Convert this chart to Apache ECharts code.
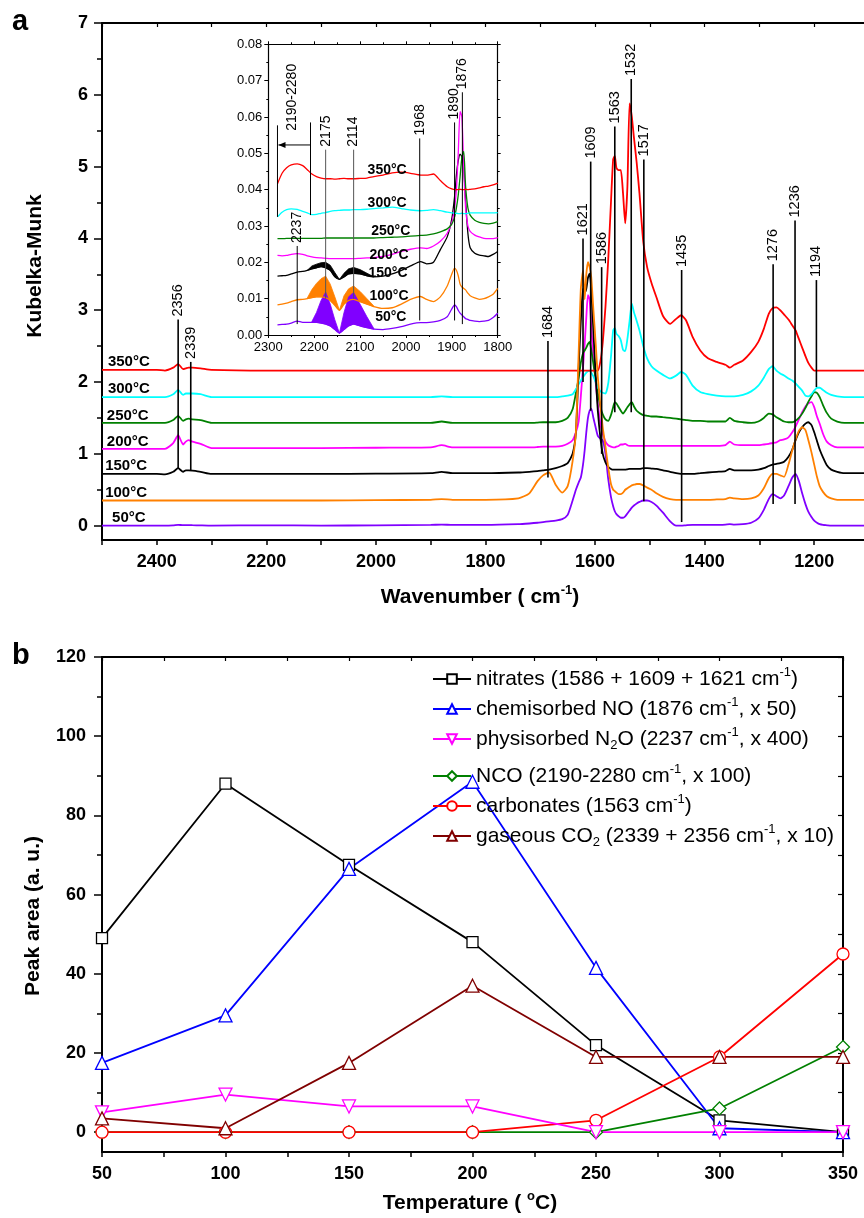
<!DOCTYPE html>
<html><head><meta charset="utf-8">
<script src="https://cdn.jsdelivr.net/npm/echarts@6/dist/echarts.min.js"></script>
<style>html,body{margin:0;padding:0;background:#fff}#c{width:864px;height:1218px}</style>
</head><body><div id="c"></div>
<script>
const FONT = '"Liberation Sans", Arial, Helvetica, sans-serif';

// ===== Panel a: DRIFT spectra (Kubelka-Munk vs wavenumber) =====
const wn = [2500,2400,2385,2370,2361,2352,2347,2342,2335,2320,
  2300,2200,2100,2000,1900,1880,1860,1800,1740,1720,
  1705,1695,1684,1672,1660,1650,1641,1635,1630,1626,
  1622,1619,1616,1613,1610,1607,1603,1599,1595,1590,
  1586,1581,1576,1571,1567,1564,1561,1557,1553,1549,
  1545,1541,1537,1533,1529,1524,1519,1512,1505,1497,
  1488,1476,1463,1452,1443,1434,1422,1408,1394,1378,
  1362,1354,1346,1330,1315,1302,1292,1283,1276,1269,
  1262,1255,1247,1240,1234,1228,1222,1216,1211,1205,
  1200,1195,1190,1184,1177,1169,1158,1145,1130,1100];
const km50 = [0,0,0,0.005,0.012,0.006,0.008,0.008,0.006,0.003,
  0,0.005,0,0.005,0.01,0.015,0.01,0.01,0.02,0.03,
  0.04,0.05,0.06,0.07,0.09,0.15,0.35,0.5,0.6,0.67,
  0.85,1.05,1.3,1.5,1.6,1.63,1.5,1.37,1.25,1.21,
  1.19,1.0,0.65,0.4,0.27,0.2,0.16,0.13,0.11,0.11,
  0.13,0.17,0.21,0.25,0.28,0.31,0.33,0.35,0.35,0.33,
  0.28,0.18,0.06,0,0,0.005,0.01,0.01,0.01,0.01,
  0.015,0.02,0.015,0.02,0.04,0.1,0.22,0.37,0.44,0.41,
  0.38,0.42,0.55,0.67,0.72,0.62,0.45,0.3,0.2,0.12,
  0.07,0.04,0.02,0.01,0.005,0,0,0,0,0];
const km100 = [0.35,0.35,0.35,0.35,0.35,0.35,0.35,0.35,0.35,0.35,
  0.35,0.35,0.35,0.355,0.36,0.37,0.36,0.36,0.38,0.45,
  0.62,0.70,0.74,0.57,0.46,0.55,0.9,1.3,2.4,3.3,
  3.55,3.15,3.5,3.67,3.6,3.46,3.0,2.55,2.07,1.65,
  1.37,1.1,0.81,0.58,0.5,0.48,0.46,0.44,0.44,0.46,
  0.5,0.52,0.54,0.56,0.57,0.58,0.58,0.56,0.53,0.5,
  0.45,0.40,0.37,0.36,0.36,0.36,0.36,0.36,0.36,0.365,
  0.37,0.39,0.38,0.37,0.38,0.42,0.52,0.66,0.72,0.72,
  0.70,0.68,0.85,1.05,1.2,1.32,1.37,1.33,1.2,1.02,
  0.85,0.68,0.55,0.47,0.41,0.38,0.36,0.36,0.36,0.36];
const km150 = [0.72,0.72,0.715,0.75,0.80,0.75,0.77,0.77,0.765,0.75,
  0.72,0.72,0.72,0.725,0.73,0.75,0.73,0.73,0.74,0.75,
  0.76,0.77,0.78,0.80,0.83,0.87,1.0,1.3,2.2,2.85,
  3.3,3.25,3.3,3.45,3.51,3.3,2.7,2.1,1.6,1.2,
  1.0,0.88,0.82,0.79,0.78,0.78,0.78,0.78,0.78,0.78,
  0.78,0.785,0.79,0.79,0.79,0.79,0.79,0.80,0.80,0.795,
  0.79,0.77,0.75,0.73,0.72,0.72,0.72,0.73,0.74,0.75,
  0.76,0.79,0.77,0.77,0.77,0.78,0.8,0.83,0.85,0.86,
  0.87,0.89,0.96,1.06,1.19,1.3,1.37,1.42,1.44,1.40,
  1.3,1.18,1.06,0.95,0.84,0.78,0.75,0.73,0.73,0.73];
const km200 = [1.07,1.07,1.07,1.15,1.26,1.13,1.17,1.19,1.17,1.14,
  1.08,1.08,1.08,1.085,1.09,1.12,1.09,1.09,1.09,1.09,
  1.095,1.10,1.10,1.10,1.11,1.14,1.19,1.3,1.45,1.8,
  2.2,2.53,2.9,3.21,3.15,2.77,2.35,2.0,1.7,1.4,
  1.28,1.17,1.12,1.10,1.09,1.09,1.10,1.11,1.13,1.13,
  1.14,1.12,1.11,1.11,1.11,1.11,1.11,1.11,1.11,1.11,
  1.11,1.11,1.11,1.11,1.11,1.11,1.11,1.11,1.11,1.11,
  1.12,1.17,1.13,1.12,1.12,1.12,1.13,1.14,1.15,1.16,
  1.19,1.2,1.23,1.3,1.38,1.48,1.58,1.66,1.70,1.72,
  1.65,1.52,1.42,1.28,1.17,1.12,1.09,1.09,1.09,1.09];
const km250 = [1.43,1.43,1.43,1.47,1.53,1.46,1.48,1.49,1.48,1.47,
  1.43,1.43,1.43,1.43,1.43,1.45,1.43,1.43,1.43,1.43,
  1.435,1.44,1.44,1.44,1.46,1.5,1.62,1.85,2.05,2.27,
  2.4,2.44,2.48,2.53,2.56,2.45,2.25,2.05,1.85,1.65,
  1.55,1.48,1.46,1.54,1.65,1.72,1.70,1.65,1.6,1.56,
  1.6,1.65,1.69,1.72,1.66,1.6,1.57,1.54,1.53,1.52,
  1.52,1.51,1.50,1.49,1.48,1.47,1.46,1.46,1.45,1.45,
  1.45,1.5,1.46,1.44,1.43,1.45,1.5,1.56,1.55,1.51,
  1.48,1.45,1.44,1.44,1.46,1.5,1.56,1.64,1.72,1.8,
  1.86,1.85,1.79,1.68,1.57,1.49,1.45,1.43,1.43,1.43];
const km300 = [1.79,1.79,1.79,1.83,1.89,1.82,1.84,1.84,1.84,1.83,
  1.79,1.79,1.79,1.79,1.79,1.80,1.79,1.79,1.79,1.79,
  1.79,1.79,1.79,1.79,1.8,1.81,1.83,1.9,1.97,2.02,
  2.07,2.1,2.13,2.15,2.16,2.13,2.08,2.0,1.92,1.87,
  1.85,1.84,1.98,2.35,2.72,2.75,2.67,2.64,2.58,2.45,
  2.43,2.6,2.85,3.09,2.97,2.85,2.72,2.5,2.33,2.22,
  2.16,2.1,2.05,2.09,2.14,2.1,1.95,1.86,1.83,1.81,
  1.8,1.8,1.8,1.82,1.87,1.95,2.06,2.18,2.22,2.16,
  2.12,2.09,2.05,2.02,1.98,1.93,1.88,1.81,1.8,1.83,
  1.88,1.92,1.92,1.89,1.85,1.82,1.8,1.79,1.79,1.79];
const km350 = [2.17,2.17,2.16,2.20,2.25,2.18,2.19,2.20,2.20,2.19,
  2.17,2.16,2.16,2.16,2.16,2.16,2.16,2.16,2.16,2.16,
  2.16,2.16,2.16,2.16,2.16,2.16,2.16,2.16,2.16,2.16,
  2.16,2.16,2.16,2.16,2.16,2.16,2.16,2.16,2.16,2.3,
  2.55,3.05,3.7,4.5,5.1,5.15,4.98,4.95,4.95,4.63,
  4.21,4.72,5.88,5.7,5.4,5.05,4.63,3.95,3.6,3.38,
  3.18,2.92,2.81,2.88,2.93,2.86,2.63,2.44,2.33,2.28,
  2.24,2.2,2.24,2.3,2.42,2.56,2.74,2.95,3.03,3.04,
  3.0,2.94,2.87,2.79,2.72,2.6,2.48,2.36,2.27,2.2,
  2.16,2.16,2.16,2.16,2.16,2.16,2.16,2.16,2.16,2.16];

const tempNames = ['50°C','100°C','150°C','200°C','250°C','300°C','350°C'];
const tempColors = ['#8000ff','#ff8000','#000000','#ff00ff','#008000','#00ffff','#ff0000'];
const tempLabelW = [2451,2456,2456,2453,2453,2451,2451];
const tempLabelY = [0.11,0.45,0.83,1.16,1.53,1.91,2.28];

// peak assignment lines (main)
const annLabel = ['2356','2339','1684','1621','1609','1586','1563','1532','1517','1435','1276','1236','1194'];
const annW  = [2361,2338,1686,1622,1608,1588,1564,1534,1511,1442,1275,1235,1196];
const annLo = [0.79,0.77,0.67,2.0,1.6,1.0,1.58,1.58,0.34,0.05,0.3,0.3,1.93];
const annHi = [2.87,2.28,2.57,4.0,5.07,3.6,5.56,6.22,5.1,3.56,3.64,4.25,3.42];

// ===== Inset (zoom 2300-1800 cm-1) =====
const iwn = [2280,2270,2260,2250,2237,2225,2215,2205,2195,2185,
  2175,2165,2155,2145,2135,2125,2114,2100,2085,2070,
  2050,2030,2010,1990,1968,1955,1940,1925,1910,1900,
  1894,1890,1886,1882,1878,1874,1870,1865,1860,1850,
  1840,1830,1820,1810,1800];
const ik350 = [0.0416,0.0445,0.0460,0.0468,0.0471,0.0466,0.0455,0.0443,0.0436,0.0432,
  0.0430,0.0430,0.0429,0.0430,0.0431,0.0430,0.0430,0.0431,0.0432,0.0436,
  0.0440,0.0446,0.0448,0.0445,0.0440,0.0440,0.0443,0.0425,0.0408,0.0402,
  0.0400,0.0400,0.0400,0.0401,0.0400,0.0400,0.0401,0.0400,0.0401,0.0402,
  0.0405,0.0408,0.0410,0.0413,0.0418];
const ik300 = [0.0325,0.0338,0.0345,0.0347,0.0346,0.0340,0.0336,0.0331,0.0332,0.0335,
  0.0337,0.0340,0.0342,0.0343,0.0344,0.0344,0.0345,0.0345,0.0346,0.0348,
  0.0350,0.0352,0.0348,0.0344,0.0342,0.0343,0.0345,0.0342,0.0338,0.0336,
  0.0335,0.0335,0.0334,0.0334,0.0335,0.0334,0.0334,0.0335,0.0336,0.0336,
  0.0336,0.0336,0.0336,0.0336,0.0337];
const ik250 = [0.0265,0.0265,0.0266,0.0266,0.0266,0.0266,0.0266,0.0266,0.0266,0.0266,
  0.0267,0.0267,0.0267,0.0267,0.0267,0.0267,0.0267,0.0267,0.0267,0.0267,
  0.0268,0.0269,0.0270,0.0272,0.0274,0.0275,0.0278,0.0284,0.0292,0.0305,
  0.0325,0.0350,0.0385,0.0435,0.0490,0.0505,0.0410,0.0350,0.0330,0.0316,
  0.0310,0.0307,0.0306,0.0308,0.0312];
const ik200 = [0.0219,0.0218,0.0219,0.0222,0.0224,0.0222,0.0218,0.0215,0.0213,0.0212,
  0.0211,0.0210,0.0210,0.0210,0.0210,0.0210,0.0210,0.0211,0.0212,0.0213,
  0.0216,0.0222,0.0230,0.0236,0.0240,0.0238,0.0245,0.0258,0.0280,0.0310,
  0.0350,0.0400,0.0500,0.0615,0.0600,0.0460,0.0350,0.0300,0.0285,0.0275,
  0.0270,0.0266,0.0265,0.0265,0.0268];
const ik150 = [0.0162,0.0163,0.0164,0.0168,0.0173,0.0175,0.0178,0.0182,0.0185,0.0188,
  0.0185,0.0178,0.0160,0.0153,0.0160,0.0168,0.0170,0.0168,0.0163,0.0160,
  0.0162,0.0168,0.0178,0.0190,0.0202,0.0196,0.0200,0.0235,0.0270,0.0320,
  0.0380,0.0440,0.0480,0.0498,0.0490,0.0460,0.0370,0.0280,0.0240,0.0225,
  0.0220,0.0218,0.0216,0.0222,0.0230];
const ik100 = [0.0083,0.0085,0.0088,0.0092,0.0097,0.0098,0.0100,0.0103,0.0105,0.0105,
  0.0103,0.0095,0.0082,0.0068,0.0085,0.0095,0.0098,0.0092,0.0085,0.0078,
  0.0073,0.0075,0.0085,0.0098,0.0106,0.0098,0.0092,0.0105,0.0135,0.0168,
  0.0184,0.0178,0.0163,0.0140,0.0132,0.0128,0.0124,0.0115,0.0108,0.0102,
  0.0098,0.0100,0.0105,0.0112,0.0128];
const ik50 = [0.0028,0.0029,0.0030,0.0033,0.0038,0.0035,0.0035,0.0035,0.0035,0.0033,
  0.0030,0.0025,0.0015,0.0005,0.0015,0.0025,0.0030,0.0025,0.0020,0.0016,
  0.0015,0.0018,0.0023,0.0030,0.0034,0.0034,0.0036,0.0040,0.0050,0.0072,
  0.0083,0.0078,0.0068,0.0060,0.0055,0.0050,0.0045,0.0043,0.0040,0.0038,
  0.0037,0.0038,0.0040,0.0048,0.0060];
// noise envelopes (shaded) in the inset
const bandKW  = [2215,2205,2195,2185,2175,2165,2155,2145,2135,2125,2114,2100,2085,2070];
const bandKLo = [0.0178,0.0182,0.0185,0.0188,0.0185,0.0178,0.0160,0.0153,0.0160,0.0168,0.0170,0.0168,0.0163,0.0160];
const bandKHi = [0.0178,0.0190,0.0195,0.0199,0.0200,0.0192,0.0172,0.0153,0.0170,0.0182,0.0186,0.0180,0.0170,0.0160];
const bandOW  = [2215,2205,2195,2185,2175,2165,2155,2145,2135,2125,2114,2100,2085,2070];
const bandOLo = [0.0100,0.0103,0.0105,0.0105,0.0103,0.0095,0.0082,0.0068,0.0085,0.0095,0.0098,0.0092,0.0085,0.0078];
const bandOHi = [0.0102,0.0125,0.0142,0.0155,0.0162,0.0140,0.0105,0.0068,0.0108,0.0127,0.0135,0.0120,0.0100,0.0080];
const bandPW  = [2205,2195,2185,2175,2165,2155,2145,2135,2125,2114,2100,2085,2070];
const bandPLo = [0.0035,0.0035,0.0033,0.0030,0.0025,0.0015,0.0005,0.0015,0.0025,0.0030,0.0025,0.0020,0.0016];
const bandPHi = [0.0037,0.0062,0.0095,0.0118,0.0085,0.0042,0.0005,0.0062,0.0105,0.0117,0.0085,0.0050,0.0018];

const itempLabelW = [2033,2037,2039,2037,2033,2041,2041];
const itempLabelY = [0.0050,0.0107,0.0170,0.0220,0.0287,0.0363,0.0455];

const iannLabel = ['2237','2175','2114','1968','1890','1876'];
const iannW  = [2237,2175,2114,1970,1894,1877];
const iannLo = [0.003,0.010,0.010,0.004,0.004,0.003];
const iannHi = [0.0245,0.051,0.051,0.0541,0.0585,0.0668];
const iannColor = ['#000','#555','#555','#000','#000','#000'];
const ncoW = [2280,2208];
const ncoLo = [0.0325,0.033];
const ncoHi = [0.0577,0.0585];
const ncoArrowY = 0.0523;
const ncoLabel = '2190-2280';
const ncoLabelW = 2249, ncoLabelY = 0.0562;

// ===== Panel b: peak areas vs temperature =====
const temps = [50,100,150,200,250,300,350];
const nitrates   = [49,88,67.5,48,22,3,0];
const chemNO     = [17.5,29.5,66.5,88.5,41.5,1,0];
const physN2O    = [5,9.5,6.5,6.5,0,0,0];
const nco        = [0,0,0,0,0,6,21.5];
const carbonates = [0,0,0,0,3,19,45];
const gasCO2     = [3.5,1,17.5,37,19,19,19];

const bNames = ['nitrates','chemNO','physN2O','NCO','carbonates','gasCO2'];
const bLegendText = [
  'nitrates (1586 + 1609 + 1621 cm{sup|-1})',
  'chemisorbed NO (1876 cm{sup|-1}, x 50)',
  'physisorbed N{sub|2}O (2237 cm{sup|-1}, x 400)',
  'NCO (2190-2280 cm{sup|-1}, x 100)',
  'carbonates (1563 cm{sup|-1})',
  'gaseous CO{sub|2} (2339 + 2356 cm{sup|-1}, x 10)'
];
const bLegendTop = [661, 691, 721, 758, 788, 818];

// ===== build chart =====
const chart = echarts.init(document.getElementById('c'), null, {renderer: 'canvas'});
const pair = (xs, ys) => xs.map((x, i) => [x, ys[i]]);

function annRender(ws, lo, hi, labels, colors, fontPx, lw) {
  return function (params, api) {
    const i = params.dataIndex;
    const a = api.coord([ws[i], lo[i]]), b = api.coord([ws[i], hi[i]]);
    return {type: 'group', children: [
      {type: 'line', shape: {x1: a[0], y1: a[1], x2: b[0], y2: b[1]}, style: {stroke: colors ? colors[i] : '#000', lineWidth: lw}},
      {type: 'text', x: b[0], y: b[1] - 3, rotation: Math.PI / 2,
        style: {text: labels[i], font: fontPx + 'px ' + FONT, fill: '#000', align: 'left', verticalAlign: 'middle'}}
    ]};
  };
}
function textRender(ws, ys, labels, font) {
  return function (params, api) {
    const i = params.dataIndex;
    const p = api.coord([ws[i], ys[i]]);
    return {type: 'text', x: p[0], y: p[1], style: {text: labels[i], font: font, fill: '#000', align: 'center', verticalAlign: 'middle'}};
  };
}
function bandRender(ws, lo, hi, color) {
  return function (params, api) {
    const pts = [];
    for (let i = 0; i < ws.length; i++) pts.push(api.coord([ws[i], hi[i]]));
    for (let i = ws.length - 1; i >= 0; i--) pts.push(api.coord([ws[i], lo[i]]));
    return {type: 'polygon', shape: {points: pts}, style: {fill: color, stroke: color, lineWidth: 0.8}};
  };
}
function ncoRender(params, api) {
  const ch = [];
  for (let i = 0; i < ncoW.length; i++) {
    const a = api.coord([ncoW[i], ncoLo[i]]), b = api.coord([ncoW[i], ncoHi[i]]);
    ch.push({type: 'line', shape: {x1: a[0], y1: a[1], x2: b[0], y2: b[1]}, style: {stroke: '#000', lineWidth: 1}});
  }
  const l = api.coord([ncoW[0], ncoArrowY]), r = api.coord([ncoW[1], ncoArrowY]);
  ch.push({type: 'line', shape: {x1: l[0] + 1, y1: l[1], x2: r[0], y2: r[1]}, style: {stroke: '#000', lineWidth: 1}});
  ch.push({type: 'polygon', shape: {points: [[l[0] + 1, l[1]], [l[0] + 8, l[1] - 3], [l[0] + 8, l[1] + 3]]}, style: {fill: '#000'}});
  const t = api.coord([ncoLabelW, ncoLabelY]);
  ch.push({type: 'text', x: t[0], y: t[1], rotation: Math.PI / 2,
    style: {text: ncoLabel, font: '14px ' + FONT, fill: '#000', align: 'left', verticalAlign: 'middle'}});
  return {type: 'group', children: ch};
}

const axisLineBlack = (w) => ({show: true, onZero: false, lineStyle: {color: '#000', width: w}});
const tickStyle = (w) => ({color: '#000', width: w});
const boldLabel = {color: '#000', fontWeight: 'bold', fontSize: 18, fontFamily: FONT};

const spectra = [km50, km100, km150, km200, km250, km300, km350];
const drawOrder = [0, 3, 4, 5, 6, 2, 1];
const series = [];
drawOrder.forEach(k => series.push({
  type: 'line', name: 'a' + tempNames[k], xAxisIndex: 0, yAxisIndex: 0,
  data: pair(wn, spectra[k]), showSymbol: false, symbol: 'none', smooth: 0.2,
  lineStyle: {color: tempColors[k], width: 1.8}, z: 3, silent: true
}));
series.push({type: 'custom', xAxisIndex: 0, yAxisIndex: 0, z: 6, silent: true,
  renderItem: annRender(annW, annLo, annHi, annLabel, null, 14.5, 1.6),
  data: annW.map((w, i) => [w, annLo[i], annHi[i]])});
series.push({type: 'custom', xAxisIndex: 0, yAxisIndex: 0, z: 6, silent: true,
  renderItem: textRender(tempLabelW, tempLabelY, tempNames, 'bold 15px ' + FONT),
  data: tempLabelW.map((w, i) => [w, tempLabelY[i]])});

// inset
const ispec = [ik50, ik100, ik150, ik200, ik250, ik300, ik350];
[['#ff8000', bandOW, bandOLo, bandOHi], ['#8000ff', bandPW, bandPLo, bandPHi], ['#000000', bandKW, bandKLo, bandKHi]].forEach(b => {
  series.push({type: 'custom', xAxisIndex: 2, yAxisIndex: 2, z: 7, silent: true,
    renderItem: bandRender(b[1], b[2], b[3], b[0]), data: [[b[1][0], b[2][0]]]});
});
[0, 1, 2, 3, 4, 5, 6].forEach(k => series.push({
  type: 'line', xAxisIndex: 2, yAxisIndex: 2, data: pair(iwn, ispec[k]), showSymbol: false, symbol: 'none',
  smooth: 0.2, lineStyle: {color: tempColors[k], width: 1.3}, z: 8, silent: true
}));
series.push({type: 'custom', xAxisIndex: 2, yAxisIndex: 2, z: 9, silent: true,
  renderItem: annRender(iannW, iannLo, iannHi, iannLabel, iannColor, 14, 1),
  data: iannW.map((w, i) => [w, iannLo[i], iannHi[i]])});
series.push({type: 'custom', xAxisIndex: 2, yAxisIndex: 2, z: 9, silent: true,
  renderItem: ncoRender, data: [[ncoW[0], ncoLo[0]]]});
series.push({type: 'custom', xAxisIndex: 2, yAxisIndex: 2, z: 9, silent: true,
  renderItem: textRender(itempLabelW, itempLabelY, tempNames, 'bold 14px ' + FONT),
  data: itempLabelW.map((w, i) => [w, itempLabelY[i]])});

// panel b
const bData = {nitrates, chemNO, physN2O, NCO: nco, carbonates, gasCO2};
const bStyle = {
  nitrates:   {c: '#000000', s: 'rect', size: 11, rot: 0},
  chemNO:     {c: '#0000ff', s: 'triangle', size: 13, rot: 0},
  physN2O:    {c: '#ff00ff', s: 'triangle', size: 13, rot: 180},
  NCO:        {c: '#008000', s: 'diamond', size: 13, rot: 0},
  carbonates: {c: '#ff0000', s: 'circle', size: 12, rot: 0},
  gasCO2:     {c: '#800000', s: 'triangle', size: 13, rot: 0}
};
['nitrates', 'chemNO', 'NCO', 'carbonates', 'physN2O', 'gasCO2'].forEach(n => {
  const st = bStyle[n];
  series.push({type: 'line', name: n, xAxisIndex: 4, yAxisIndex: 4, data: pair(temps, bData[n]),
    symbol: st.s, symbolSize: st.size, symbolRotate: st.rot, showSymbol: true,
    lineStyle: {color: st.c, width: 1.8}, itemStyle: {color: '#fff', borderColor: st.c, borderWidth: 1.3},
    z: 3, silent: true, clip: false});
});

const richSup = {
  sup: {fontSize: 13, lineHeight: 12, verticalAlign: 'top', fontFamily: FONT, color: '#000'},
  sub: {fontSize: 13, lineHeight: 12, verticalAlign: 'bottom', fontFamily: FONT, color: '#000'}
};
const legends = bNames.map((n, i) => ({
  data: [n], left: 427, top: bLegendTop[i], itemWidth: 38, itemHeight: 12, selectedMode: false,
  formatter: () => bLegendText[i],
  textStyle: {fontSize: 21, fontFamily: FONT, color: '#000', lineHeight: 26, rich: richSup}
}));

const range = (a, b, s) => { const r = []; for (let v = a; v <= b + 1e-9; v += s) r.push(Math.round(v * 1000) / 1000); return r; };

const option = {
  animation: false,
  backgroundColor: '#fff',
  grid: [
    {left: 102, top: 23, width: 767, height: 517, containLabel: false, outerBoundsMode: 'none'},
    {left: 268.3, top: 44.3, width: 229.4, height: 290.7, show: true, backgroundColor: '#fff', borderWidth: 0, containLabel: false, outerBoundsMode: 'none'},
    {left: 102, top: 657, width: 741, height: 495, containLabel: false, outerBoundsMode: 'none'}
  ],
  xAxis: [
    {gridIndex: 0, type: 'value', position: 'bottom', min: 1100, max: 2500, inverse: true, interval: 100,
      axisLine: axisLineBlack(2), axisTick: {show: true, length: 5, lineStyle: tickStyle(1.5)},
      axisLabel: Object.assign({margin: 13, formatter: v => (v % 200 === 0 ? String(v) : '')}, boldLabel),
      splitLine: {show: false}},
    {gridIndex: 0, type: 'value', position: 'top', min: 1100, max: 2500, inverse: true, interval: 100,
      axisLine: axisLineBlack(2), axisTick: {show: true, inside: true, length: 4, lineStyle: tickStyle(1.2)},
      axisLabel: {show: false}, splitLine: {show: false}},
    {gridIndex: 1, type: 'value', position: 'bottom', min: 1800, max: 2300, inverse: true, interval: 100,
      axisLine: axisLineBlack(1.2), axisTick: {show: true, length: 3, lineStyle: tickStyle(1)},
      minorTick: {show: true, splitNumber: 2, length: 2, lineStyle: tickStyle(1)},
      axisLabel: {margin: 6, color: '#000', fontSize: 13, fontFamily: FONT, formatter: v => String(v)},
      splitLine: {show: false}},
    {gridIndex: 1, type: 'value', position: 'top', min: 1800, max: 2300, inverse: true, interval: 100,
      axisLine: axisLineBlack(1.2), axisTick: {show: true, length: 3, lineStyle: tickStyle(1)},
      minorTick: {show: true, splitNumber: 2, length: 2, lineStyle: tickStyle(1)},
      axisLabel: {show: false}, splitLine: {show: false}},
    {gridIndex: 2, type: 'value', position: 'bottom', min: 50, max: 350, interval: 50,
      axisLine: axisLineBlack(2), axisTick: {show: true, length: 5, lineStyle: tickStyle(1.5)},
      minorTick: {show: true, splitNumber: 2, length: 5, lineStyle: tickStyle(1.5)},
      axisLabel: Object.assign({margin: 13, formatter: v => String(v)}, boldLabel),
      splitLine: {show: false}, minorSplitLine: {show: false}},
    {gridIndex: 2, type: 'value', position: 'top', min: 50, max: 350, interval: 25,
      axisLine: axisLineBlack(2), axisTick: {show: true, inside: true, length: 4, lineStyle: tickStyle(1.2)},
      axisLabel: {show: false}, splitLine: {show: false}}
  ],
  yAxis: [
    {gridIndex: 0, type: 'value', position: 'left', min: -0.2, max: 7,
      axisLine: axisLineBlack(2),
      axisTick: {show: true, length: 8, customValues: range(0, 7, 1), lineStyle: tickStyle(1.5)},
      axisLabel: Object.assign({margin: 14, customValues: range(0, 7, 1), formatter: v => String(v)}, boldLabel),
      splitLine: {show: false}},
    {gridIndex: 0, type: 'value', position: 'left', min: -0.2, max: 7,
      axisLine: {show: false, onZero: false},
      axisTick: {show: true, length: 5, customValues: range(0.5, 6.5, 1), lineStyle: tickStyle(1.5)},
      axisLabel: {show: false}, splitLine: {show: false}},
    {gridIndex: 1, type: 'value', position: 'left', min: 0, max: 0.08, interval: 0.01,
      axisLine: axisLineBlack(1.2), axisTick: {show: true, length: 4, lineStyle: tickStyle(1)},
      minorTick: {show: true, splitNumber: 2, length: 2, lineStyle: tickStyle(1)},
      axisLabel: {margin: 6, color: '#000', fontSize: 13, fontFamily: FONT, formatter: v => v.toFixed(2)},
      splitLine: {show: false}},
    {gridIndex: 1, type: 'value', position: 'right', min: 0, max: 0.08, interval: 0.01,
      axisLine: axisLineBlack(1.2), axisTick: {show: true, length: 3, lineStyle: tickStyle(1)},
      minorTick: {show: true, splitNumber: 2, length: 2, lineStyle: tickStyle(1)},
      axisLabel: {show: false}, splitLine: {show: false}},
    {gridIndex: 2, type: 'value', position: 'left', min: -5, max: 120,
      axisLine: axisLineBlack(2),
      axisTick: {show: true, length: 8, customValues: range(0, 120, 20), lineStyle: tickStyle(1.5)},
      axisLabel: Object.assign({margin: 16, customValues: range(0, 120, 20), formatter: v => String(v)}, boldLabel),
      splitLine: {show: false}},
    {gridIndex: 2, type: 'value', position: 'left', min: -5, max: 120,
      axisLine: {show: false, onZero: false},
      axisTick: {show: true, length: 5, customValues: range(10, 110, 20), lineStyle: tickStyle(1.5)},
      axisLabel: {show: false}, splitLine: {show: false}},
    {gridIndex: 2, type: 'value', position: 'right', min: -5, max: 120,
      axisLine: axisLineBlack(2),
      axisTick: {show: true, inside: true, length: 5, customValues: range(0, 120, 10), lineStyle: tickStyle(1.2)},
      axisLabel: {show: false}, splitLine: {show: false}}
  ],
  legend: legends,
  graphic: [
    {type: 'text', x: 12, y: 22, style: {text: 'a', font: 'bold 29px ' + FONT, fill: '#000', align: 'left', verticalAlign: 'middle'}},
    {type: 'text', x: 12, y: 656, style: {text: 'b', font: 'bold 29px ' + FONT, fill: '#000', align: 'left', verticalAlign: 'middle'}},
    {type: 'text', x: 480, y: 597, style: {text: 'Wavenumber ( cm{sup|-1})', font: 'bold 21px ' + FONT, fill: '#000',
      align: 'center', verticalAlign: 'middle', lineHeight: 26,
      rich: {sup: {fontSize: 13, fontWeight: 'bold', fontFamily: FONT, lineHeight: 12, verticalAlign: 'top', fill: '#000'}}}},
    {type: 'text', x: 35, y: 266, rotation: Math.PI / 2, style: {text: 'Kubelka-Munk', font: 'bold 21px ' + FONT, fill: '#000', align: 'center', verticalAlign: 'middle'}},
    {type: 'text', x: 33, y: 916, rotation: Math.PI / 2, style: {text: 'Peak area (a. u.)', font: 'bold 21px ' + FONT, fill: '#000', align: 'center', verticalAlign: 'middle'}},
    {type: 'text', x: 470, y: 1203, style: {text: 'Temperature ( {sup|o}C)', font: 'bold 21px ' + FONT, fill: '#000',
      align: 'center', verticalAlign: 'middle', lineHeight: 26,
      rich: {sup: {fontSize: 13, fontWeight: 'bold', fontFamily: FONT, lineHeight: 12, verticalAlign: 'top', fill: '#000'}}}}
  ],
  series: series
};
chart.setOption(option);
</script>
</body></html>
